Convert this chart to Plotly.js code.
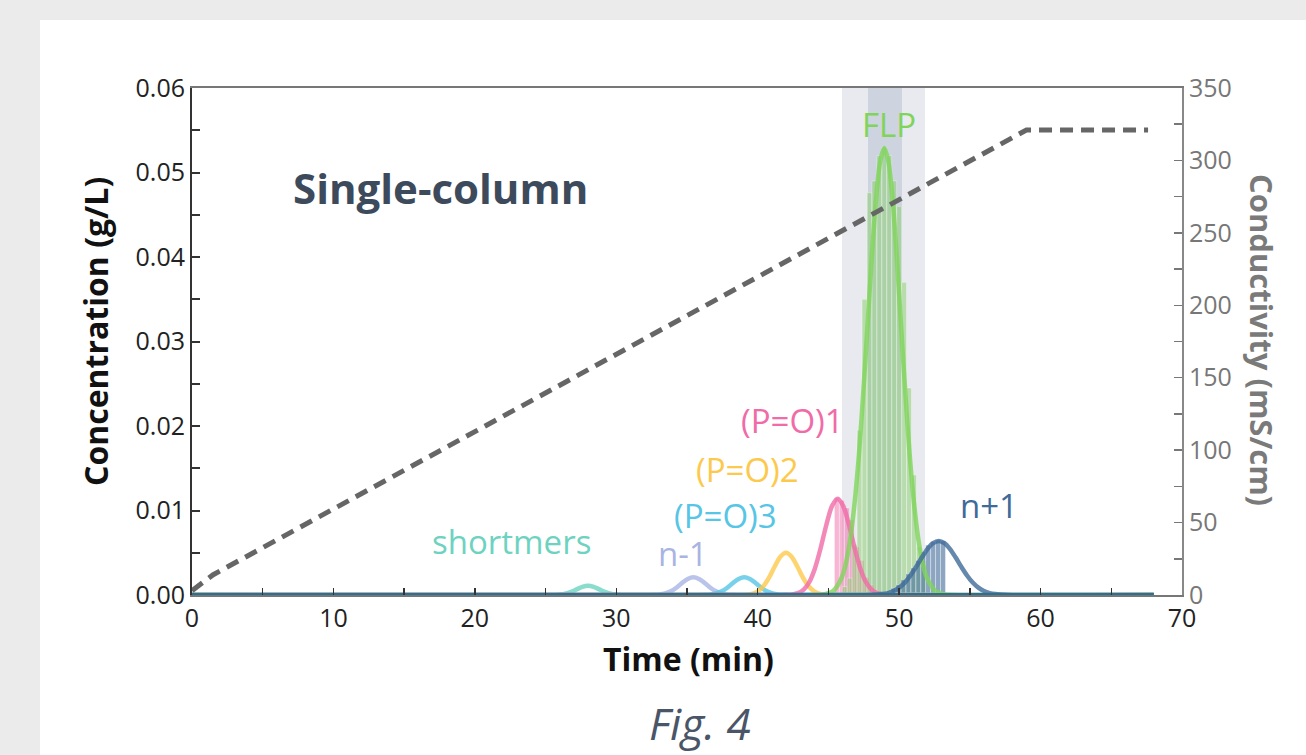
<!DOCTYPE html>
<html>
<head>
<meta charset="utf-8">
<script src="https://cdn.plot.ly/plotly-3.0.1.min.js"></script>
<style>
html,body{margin:0;padding:0;background:#ebebeb;}
#chart{width:1306px;height:755px;}
</style>
</head>
<body>
<div id="chart"></div>
<script>
// ---- Data ----
const shortT = [0, 25.2, 25.6, 26.0, 26.4, 26.8, 27.2, 27.6, 28.0, 28.4, 28.8, 29.2, 29.6, 30.0, 30.4, 30.8, 68];
const shortC = [0, 0, 0.00001, 0.00005, 0.00015, 0.00036, 0.00067, 0.00097, 0.0011, 0.00097, 0.00067, 0.00036, 0.00015, 0.00005, 0.00001, 0, 0];

const nm1T = [0, 32.25, 32.65, 33.05, 33.45, 33.85, 34.25, 34.65, 35.05, 35.45, 35.85, 36.25, 36.65, 37.05, 37.45, 37.85, 38.25, 38.65, 68];
const nm1C = [0, 0, 0.00002, 0.00006, 0.00018, 0.00043, 0.00086, 0.00142, 0.0019, 0.0021, 0.0019, 0.00142, 0.00086, 0.00043, 0.00018, 0.00006, 0.00002, 0, 0];

const po3T = [0, 35.85, 36.25, 36.65, 37.05, 37.45, 37.85, 38.25, 38.65, 39.05, 39.45, 39.85, 40.25, 40.65, 41.05, 41.45, 41.85, 42.25, 68];
const po3C = [0, 0, 0.00002, 0.00006, 0.00018, 0.00043, 0.00086, 0.00142, 0.0019, 0.0021, 0.0019, 0.00142, 0.00086, 0.00043, 0.00018, 0.00006, 0.00002, 0, 0];

const po2T = [0, 38.8, 39.2, 39.6, 40.0, 40.4, 40.8, 41.2, 41.6, 42.0, 42.4, 42.8, 43.2, 43.6, 44.0, 44.4, 44.8, 45.2, 68];
const po2C = [0, 0, 0.00004, 0.00014, 0.00042, 0.00103, 0.00206, 0.00337, 0.00453, 0.0050, 0.00453, 0.00337, 0.00206, 0.00103, 0.00042, 0.00014, 0.00004, 0, 0];

const po1T = [0, 41.65, 42.05, 42.45, 42.85, 43.25, 43.65, 44.05, 44.45, 44.85, 45.25, 45.65, 46.05, 46.45, 46.85, 47.25, 47.65, 48.05, 48.45, 48.85, 49.25, 68];
const po1C = [0, 0, 0.00002, 0.00007, 0.00023, 0.00064, 0.00154, 0.00317, 0.00555, 0.00828, 0.01052, 0.0114, 0.01052, 0.00828, 0.00555, 0.00317, 0.00154, 0.00064, 0.00023, 0.00007, 0.00002, 0];

const flpT = [0, 44.15, 44.75, 45.35, 45.95, 46.25, 46.55, 46.85, 47.15, 47.45, 47.75, 48.05, 48.35, 48.65, 48.95, 49.25, 49.55, 49.85, 50.15, 50.45, 50.75, 51.05, 51.35, 51.65, 51.95, 52.55, 53.15, 53.75, 68];
const flpC = [0, 0, 0.0001, 0.0005, 0.0021, 0.00386, 0.0067, 0.0109, 0.0165, 0.0236, 0.0315, 0.0396, 0.0465, 0.0512, 0.0529, 0.0512, 0.0465, 0.0396, 0.0315, 0.0236, 0.0165, 0.0109, 0.0067, 0.00386, 0.0021, 0.0005, 0.0001, 0, 0];

const np1T = [0, 47.6, 48.0, 48.4, 48.8, 49.2, 49.6, 50.0, 50.4, 50.8, 51.2, 51.6, 52.0, 52.4, 52.8, 53.2, 53.6, 54.0, 54.4, 54.8, 55.2, 55.6, 56.0, 56.4, 56.8, 57.2, 57.6, 58.0, 68];
const np1C = [0, 0.00001, 0.00002, 0.00005, 0.00011, 0.00023, 0.00047, 0.00087, 0.00147, 0.00231, 0.00333, 0.00443, 0.00544, 0.00614, 0.0064, 0.00614, 0.00544, 0.00443, 0.00333, 0.00231, 0.00147, 0.00087, 0.00047, 0.00023, 0.00011, 0.00005, 0.00002, 0.00001, 0];

// fraction bars
const po1BarT = [45.6, 45.95, 46.3, 46.65, 47.0, 47.35, 47.7, 48.05];
const po1BarC = [0.0115, 0.0112, 0.0103, 0.0089, 0.0057, 0.0041, 0.0021, 0.0012];
const flpBarT = [46.15, 46.5, 46.85, 47.2, 47.55, 47.9, 48.25, 48.6, 48.95, 49.3, 49.65, 50.0, 50.35, 50.7, 51.05, 51.4, 51.75];
const flpBarC = [0.001, 0.002, 0.006, 0.0195, 0.035, 0.0476, 0.049, 0.052, 0.053, 0.052, 0.049, 0.046, 0.037, 0.0245, 0.0142, 0.0057, 0.004];
const np1BarT = [49.6, 49.95, 50.3, 50.65, 51.0, 51.35, 51.7, 52.05, 52.4, 52.75, 53.1];
const np1BarC = [0.0008, 0.0012, 0.0018, 0.0025, 0.0032, 0.0041, 0.0051, 0.0059, 0.0063, 0.0065, 0.0064];

// conductivity gradient
const condT = [0, 1.5, 59, 67.6];
const condV = [3, 14, 321, 321];

// baseline
const baseT = [0, 68];
const baseC = [0, 0];

// collection windows (min)
const outerWindow = [45.96, 51.83];
const innerWindow = [47.8, 50.2];

// labels
const peakLabels = ['shortmers', 'n-1', '(P=O)3', '(P=O)2', '(P=O)1', 'FLP', 'n+1'];
const labelX = [22.56, 34.72, 37.69, 39.31, 42.49, 49.28, 56.35];
const labelY = [0.00639, 0.00490, 0.00940, 0.01491, 0.02071, 0.05574, 0.01065];
const peakColors = ['#6dd3c0', '#a9b4e3', '#56c5e6', '#fdc94c', '#f06ba8', '#80d45a', '#3f6a99'];

const F = '"Open Sans", "DejaVu Sans", sans-serif';

function curve(x, y, color) {
  return {x: x, y: y, type: 'scatter', mode: 'lines', line: {color: color, width: 4.5, shape: 'spline', smoothing: 0.8}, opacity: 0.8, hoverinfo: 'skip', xaxis: 'x', yaxis: 'y'};
}
function bars(x, y, color) {
  return {x: x, y: y, type: 'bar', width: 0.35, marker: {color: color, line: {color: 'rgba(255,255,255,0.35)', width: 1}}, hoverinfo: 'skip', xaxis: 'x', yaxis: 'y'};
}

const traces = [
  bars(po1BarT, po1BarC, 'rgba(240,107,168,0.5)'),
  bars(flpBarT, flpBarC, 'rgba(128,205,95,0.45)'),
  bars(np1BarT, np1BarC, 'rgba(63,106,153,0.6)'),
  curve(shortT, shortC, peakColors[0]),
  curve(nm1T, nm1C, peakColors[1]),
  curve(po3T, po3C, peakColors[2]),
  curve(po2T, po2C, peakColors[3]),
  curve(po1T, po1C, peakColors[4]),
  curve(flpT, flpC, peakColors[5]),
  curve(np1T, np1C, peakColors[6]),
  {x: baseT, y: baseC, type: 'scatter', mode: 'lines', line: {color: '#2c6f8e', width: 4}, hoverinfo: 'skip', xaxis: 'x', yaxis: 'y'},
  {x: condT, y: condV, type: 'scatter', mode: 'lines', line: {color: '#666666', width: 5, dash: '13px,8px'}, hoverinfo: 'skip', xaxis: 'x', yaxis: 'y2'}
];

const px = v => (v - 192) / 990;
const py = v => (595 - v) / 507;

const annotations = peakLabels.map((t, i) => ({
  text: t, x: labelX[i], y: labelY[i], xref: 'x', yref: 'y', showarrow: false,
  xanchor: 'center', yanchor: 'middle', font: {family: F, size: 33, color: peakColors[i]}
}));
annotations.push(
  {text: '<b>Single-column</b>', x: 17.54, y: 0.04817, xref: 'x', yref: 'y', showarrow: false, xanchor: 'center', yanchor: 'middle', font: {family: F, size: 42, color: '#3d4a5c'}},
  {text: '<b>Concentration (g/L)</b>', x: px(95), y: py(332), xref: 'paper', yref: 'paper', showarrow: false, textangle: -90, xanchor: 'center', yanchor: 'middle', font: {family: F, size: 32, color: '#111'}},
  {text: '<b>Conductivity (mS/cm)</b>', x: px(1262), y: py(340), xref: 'paper', yref: 'paper', showarrow: false, textangle: 90, xanchor: 'center', yanchor: 'middle', font: {family: F, size: 31, color: '#7a7a7a'}},
  {text: '<b>Time (min)</b>', x: px(688), y: py(658), xref: 'paper', yref: 'paper', showarrow: false, xanchor: 'center', yanchor: 'middle', font: {family: F, size: 32, color: '#111'}},
  {text: '<i>Fig. 4</i>', x: px(700), y: py(723), xref: 'paper', yref: 'paper', showarrow: false, xanchor: 'center', yanchor: 'middle', font: {family: F, size: 44, color: '#4a5568'}}
);

const shapes = [
  {type: 'rect', xref: 'paper', yref: 'paper', x0: px(40), x1: px(1306), y0: py(755), y1: py(20), fillcolor: '#ffffff', line: {width: 0}, layer: 'below'},
  {type: 'rect', xref: 'x', yref: 'paper', x0: outerWindow[0], x1: outerWindow[1], y0: 0, y1: 1, fillcolor: '#e8eaf0', line: {width: 0}, layer: 'below'},
  {type: 'rect', xref: 'x', yref: 'paper', x0: innerWindow[0], x1: innerWindow[1], y0: 0, y1: 1, fillcolor: '#cdd3df', line: {width: 0}, layer: 'below'}
];

const layout = {
  width: 1306, height: 755,
  margin: {l: 192, r: 124, t: 88, b: 160},
  paper_bgcolor: '#ebebeb', plot_bgcolor: '#ffffff',
  showlegend: false, barmode: 'overlay', bargap: 0,
  font: {family: F},
  xaxis: {
    range: [0, 70], dtick: 10, tick0: 0, ticks: 'inside', ticklen: 7, tickwidth: 1.5, tickcolor: '#333',
    minor: {dtick: 5, ticks: 'inside', ticklen: 7, tickwidth: 1.5, tickcolor: '#333'},
    showline: true, linecolor: '#777', linewidth: 2, mirror: true,
    showgrid: false, zeroline: false,
    tickfont: {family: F, size: 25, color: '#222'}
  },
  yaxis: {
    range: [0, 0.06], dtick: 0.01, tick0: 0, tickformat: '.2f', ticks: 'inside', ticklen: 8, tickwidth: 2, tickcolor: '#333',
    minor: {dtick: 0.005, ticks: 'inside', ticklen: 8, tickwidth: 2, tickcolor: '#333'},
    showline: true, linecolor: '#333', linewidth: 2,
    showgrid: false, zeroline: false,
    tickfont: {family: F, size: 25, color: '#222'}
  },
  yaxis2: {
    range: [0, 350], dtick: 50, tick0: 0, overlaying: 'y', side: 'right', ticks: 'inside', ticklen: 8, tickwidth: 1.5, tickcolor: '#777',
    minor: {dtick: 25, ticks: 'inside', ticklen: 8, tickwidth: 1.5, tickcolor: '#777'},
    showline: true, linecolor: '#888', linewidth: 2,
    showgrid: false, zeroline: false,
    tickfont: {family: F, size: 25, color: '#777'}
  },
  shapes: shapes,
  annotations: annotations
};

Plotly.newPlot('chart', traces, layout, {displayModeBar: false, staticPlot: true});
</script>
</body>
</html>
